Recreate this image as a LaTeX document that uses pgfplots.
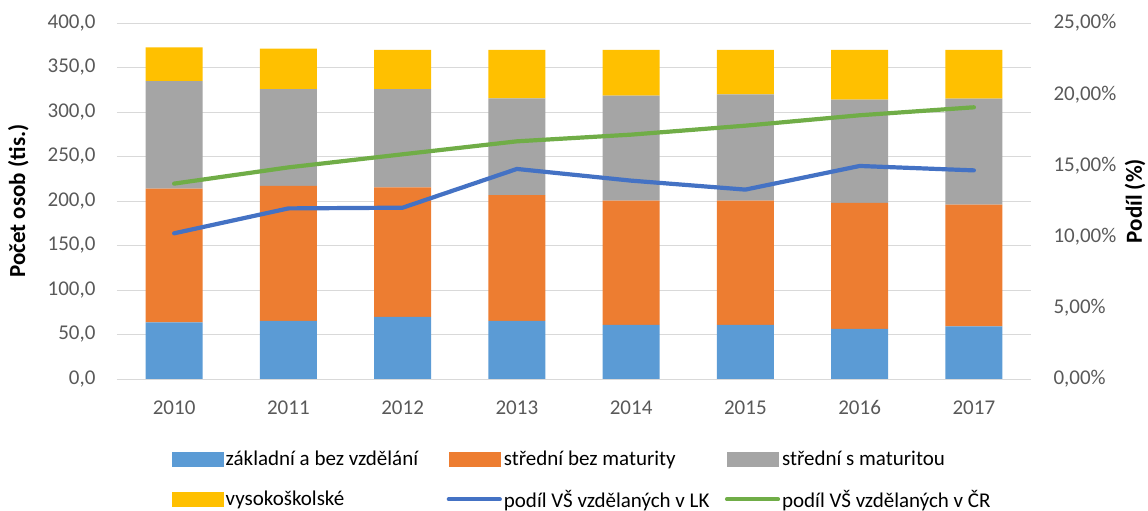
\documentclass[border=0pt]{standalone}
\usepackage{fontspec}
\setmainfont{Carlito}
\usepackage{pgfplots}
\pgfplotsset{compat=1.18}
\definecolor{cBlue}{HTML}{5B9BD5}
\definecolor{cOrange}{HTML}{ED7D31}
\definecolor{cGray}{HTML}{A5A5A5}
\definecolor{cYellow}{HTML}{FFC000}
\definecolor{cLine}{HTML}{4472C4}
\definecolor{cGreen}{HTML}{70AD47}
\definecolor{gridc}{HTML}{D9D9D9}
\definecolor{tickc}{HTML}{595959}
\newcommand{\fs}{\fontsize{21}{25}\selectfont}
\newcommand{\fl}{\fontsize{23}{27}\selectfont}
\pgfplotsset{
  common/.style={
    width=914pt, height=356pt, scale only axis,
    xmin=-0.5, xmax=7.5,
    axis line style={draw=none},
    major tick length=0pt,
    tick label style={font=\fs, text=tickc},
    /pgf/number format/assume math mode=true,
  }
}
\begin{document}
\begin{tikzpicture}
\useasboundingbox (-117pt,-132pt) rectangle (1031pt,379pt);
\begin{axis}[common,
  ybar stacked, bar width=57pt,
  ymin=0, ymax=400, ytick={0,50,...,400},
  xtick={0,...,7}, xticklabels={2010,2011,2012,2013,2014,2015,2016,2017},
  xticklabel style={yshift=-18pt, text height=14pt, text depth=0pt},
  yticklabel style={xshift=-18pt, /pgf/number format/fixed, /pgf/number format/fixed zerofill, /pgf/number format/precision=1, /pgf/number format/use comma},
  ymajorgrids, grid style={draw=gridc, line width=0.9pt},
  every axis y label/.style={at={(axis description cs:-0.108,0.5)}, rotate=90, anchor=center, font=\fl\bfseries, text=black},
  ylabel={Počet osob (tis.)},
]
\addplot[fill=cBlue, draw=none] coordinates {(0,63.7) (1,65.2) (2,69.7) (3,65.2) (4,60.7) (5,60.7) (6,56.2) (7,59.2)};
\addplot[fill=cOrange, draw=none] coordinates {(0,150.2) (1,151.7) (2,145.7) (3,141.5) (4,139.7) (5,139.7) (6,141.6) (7,136.7)};
\addplot[fill=cGray, draw=none] coordinates {(0,120.9) (1,108.9) (2,110.4) (3,108.7) (4,118.0) (5,119.5) (6,116.1) (7,119.1)};
\addplot[fill=cYellow, draw=none] coordinates {(0,37.9) (1,45.4) (2,43.9) (3,54.3) (4,51.3) (5,49.8) (6,55.8) (7,54.7)};
\end{axis}
\begin{axis}[common,
  axis y line*=right, axis x line=none,
  ymin=0, ymax=25, ytick={0,5,...,25},
  yticklabel={\pgfmathprintnumber[fixed, fixed zerofill, precision=2, use comma]{\tick}\%},
  yticklabel style={xshift=19pt},
  every axis y label/.style={at={(axis description cs:1.114,0.5)}, rotate=90, anchor=center, font=\fl\bfseries, text=black},
  ylabel={Podíl (\%)},
  legend columns=3,
  legend style={at={(axis description cs:0.057,-0.19)}, anchor=north west, draw=none, fill=none,
    font=\fs, text=black, row sep=19pt,
    /tikz/every odd column/.style={column sep=0pt},
    /tikz/every even column/.style={column sep=0pt},
    nodes={inner xsep=2pt}},
]
\addlegendimage{legend image code/.code={\fill[cBlue] (0pt,-7pt) rectangle (51pt,7pt);}}
\addlegendentry{\makebox[219pt][l]{základní a bez vzdělání}}
\addlegendimage{legend image code/.code={\fill[cOrange] (0pt,-7pt) rectangle (51pt,7pt);}}
\addlegendentry{\makebox[219pt][l]{střední bez maturity}}
\addlegendimage{legend image code/.code={\fill[cGray] (0pt,-7pt) rectangle (51pt,7pt);}}
\addlegendentry{\makebox[219pt][l]{střední s maturitou}}
\addlegendimage{legend image code/.code={\fill[cYellow] (0pt,-7pt) rectangle (51pt,7pt);}}
\addlegendentry{\makebox[219pt][l]{vysokoškolské}}
\addplot[cLine, line width=4.2pt, line join=round, line cap=round,
  legend image code/.code={\draw[cLine, line width=4.2pt, line cap=round] (0pt,0pt) -- (51pt,0pt);}]
  coordinates {(0,10.23) (1,11.98) (2,12.03) (3,14.75) (4,13.93) (5,13.30) (6,14.96) (7,14.65)};
\addlegendentry{\makebox[219pt][l]{podíl VŠ vzdělaných v LK}}
\addplot[cGreen, line width=4.2pt, line join=round, line cap=round,
  legend image code/.code={\draw[cGreen, line width=4.2pt, line cap=round] (0pt,0pt) -- (51pt,0pt);}]
  coordinates {(0,13.72) (1,14.86) (2,15.78) (3,16.69) (4,17.16) (5,17.79) (6,18.52) (7,19.08)};
\addlegendentry{\makebox[219pt][l]{podíl VŠ vzdělaných v ČR}}
\end{axis}
\end{tikzpicture}
\end{document}
